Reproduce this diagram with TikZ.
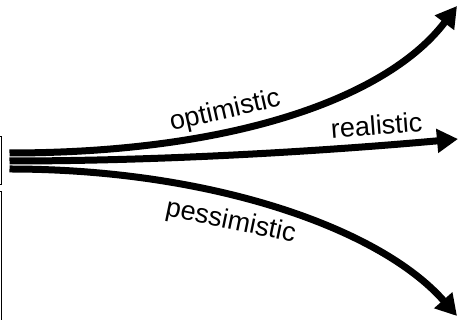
\documentclass[tikz,border=0pt]{standalone}
\usepackage{fontspec}
\setmainfont{Liberation Sans}
\usetikzlibrary{arrows.meta}

\begin{document}
\begin{tikzpicture}[
  x=1pt, y=1pt,
  font=\fontsize{27}{30}\selectfont,
  trend/.style={line width=7pt, -{Triangle[length=21pt,width=23pt]}},
  lbl/.style={sloped, inner sep=0pt},
  frame/.style={draw, line width=0.9pt}
]
  \useasboundingbox (0,0) rectangle (458,320);
  % boxes cut off at the left edge
  \draw[frame] (-5,184) -- (1.5,184) -- (1.5,136) -- (-5,136);
  \draw[frame] (-5,129) -- (1.5,129) -- (1.5,-5);
  % start and end points of the three scenarios
  \coordinate (opt-s) at (9.5,167);
  \coordinate (real-s) at (9.5,159);
  \coordinate (pess-s) at (9.5,151);
  \coordinate (opt-e) at (457,314);
  \coordinate (real-e) at (458,181);
  \coordinate (pess-e) at (457,4);
  \draw[trend] (opt-s) .. controls (240,167) and (390,225) .. (opt-e)
    node[lbl, pos=0.365, above=4pt] (opt-lbl) {optimistic};
  \draw[trend] (real-s) .. controls (200,159) and (380,174) .. (real-e)
    node[lbl, pos=0.74, above=7pt] (real-lbl) {realistic};
  \draw[trend] (pess-s) .. controls (210,151) and (380,92) .. (pess-e)
    node[lbl, pos=0.41, below=10pt, rotate=3] (pess-lbl) {pessimistic};
\end{tikzpicture}
\end{document}
